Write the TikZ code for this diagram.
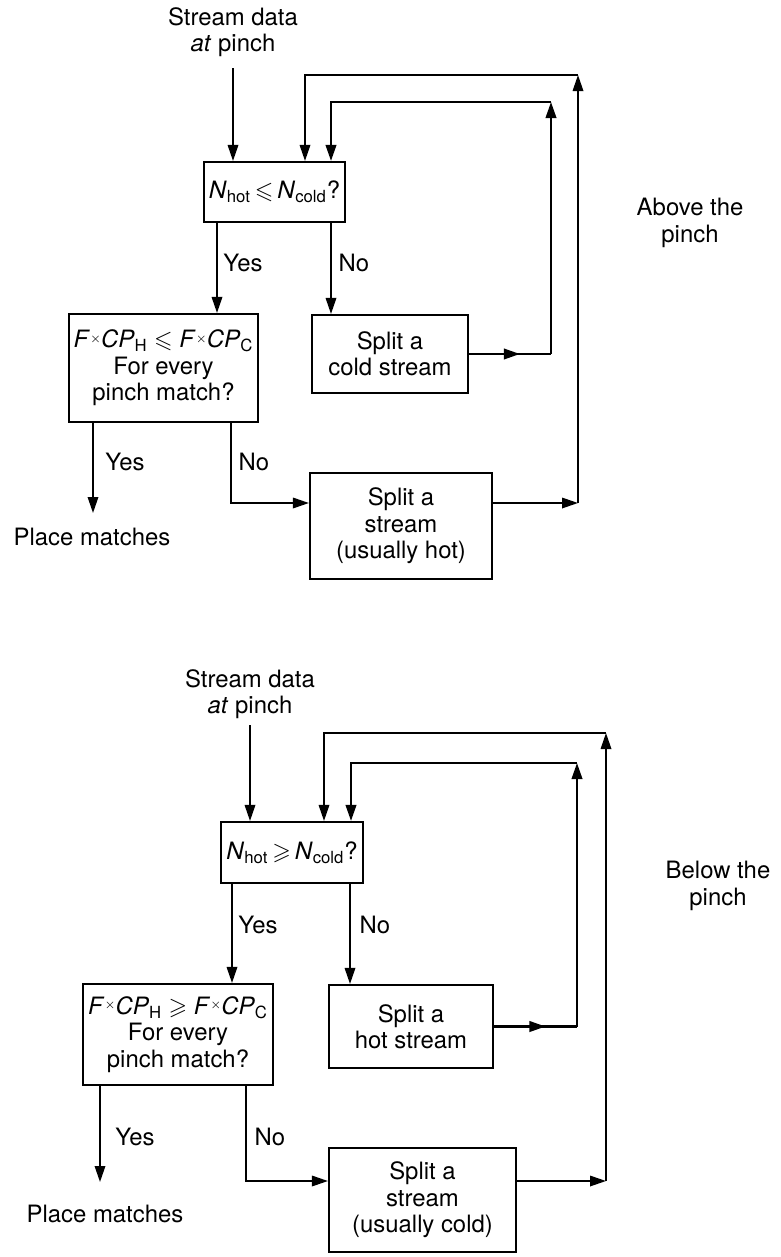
\documentclass[tikz,border=0pt]{standalone}
\usepackage{amssymb}
\usepackage{fontspec}
\setmainfont{TeX Gyre Heros}
\usepackage{tikz}
\usetikzlibrary{arrows.meta}
\usetikzlibrary{decorations.markings}
\usetikzlibrary{backgrounds,positioning}
\pgfdeclarelayer{edgelayer}
\pgfdeclarelayer{nodelayer}
\pgfsetlayers{background,edgelayer,nodelayer,main}
\newcommand{\flowfont}{\fontsize{13.6}{15}\selectfont}
\newcommand{\fcp}{\textit{F}\raisebox{0.45ex}{$\scriptscriptstyle\times$}\textit{CP}}
\tikzstyle{none}=[inner sep=0mm]
\tikzstyle{txt}=[inner sep=0mm,align=center,font=\flowfont]
\tikzstyle{box}=[draw=black,line width=1.2pt,shape=rectangle,fill=white,align=center,font=\flowfont,inner sep=1mm]
\tikzstyle{plain}=[line width=1pt]
\tikzstyle{flow}=[plain,-{Triangle[length=3.2mm,width=2.1mm]}]
\tikzstyle{midflow}=[plain,decoration={markings,mark=at position 0.62 with {\arrow{Triangle[length=3.2mm,width=2.1mm]}}},postaction={decorate}]
\tikzstyle{thickflow}=[flow,line width=1.3pt]

\begin{document}
\begin{tikzpicture}
	\useasboundingbox (0, 0) rectangle (15.62, -25.14);
	\begin{pgfonlayer}{nodelayer}
		% above the pinch
		\node [style=txt] (0) at (4.66, -0.64) {Stream data\\\textit{at} pinch};
		\node [style=none] (1) at (4.66, -1.36) {};
		\node [style=box, minimum width=2.74cm, minimum height=1.2cm] (2) at (5.49, -3.84) {\textit{N}\textsubscript{hot}\,$\leqslant$\,\textit{N}\textsubscript{cold}?};
		\node [style=none] (3) at (6.10, -1.5) {};
		\node [style=none] (4) at (11.56, -1.5) {};
		\node [style=none] (5) at (6.62, -2.04) {};
		\node [style=none] (6) at (11.02, -2.04) {};
		\node [style=box, minimum width=3.62cm, minimum height=2.16cm] (7) at (3.27, -7.36) {\fcp\textsubscript{H} $\leqslant$ \fcp\textsubscript{C}\\For every\\pinch match?};
		\node [style=box, minimum width=3.12cm, minimum height=1.56cm] (8) at (7.8, -7.08) {Split a\\cold stream};
		\node [style=box, minimum width=3.64cm, minimum height=2.12cm] (9) at (8.02, -10.52) {Split a\\stream\\(usually hot)};
		\node [style=none] (10) at (4.34, -4.44) {};
		\node [style=none] (11) at (6.62, -4.44) {};
		\node [style=none] (12) at (11.02, -7.08) {};
		\node [style=none] (13) at (1.86, -8.44) {};
		\node [style=none] (14) at (1.86, -10.26) {};
		\node [style=txt] (15) at (1.84, -10.74) {Place matches};
		\node [style=none] (16) at (4.62, -8.44) {};
		\node [style=none] (17) at (4.62, -10.06) {};
		\node [style=none] (18) at (11.56, -10.06) {};
		\node [style=txt] (19) at (4.86, -5.26) {Yes};
		\node [style=txt] (20) at (7.08, -5.26) {No};
		\node [style=txt] (21) at (2.5, -9.24) {Yes};
		\node [style=txt] (22) at (5.08, -9.24) {No};
		\node [style=txt] (23) at (13.8, -4.46) {Above the\\pinch};
		% below the pinch
		\node [style=txt] (24) at (5.0, -13.88) {Stream data\\\textit{at} pinch};
		\node [style=none] (25) at (5.0, -14.5) {};
		\node [style=box, minimum width=2.8cm, minimum height=1.22cm] (26) at (5.84, -17.05) {\textit{N}\textsubscript{hot}\,$\geqslant$\,\textit{N}\textsubscript{cold}?};
		\node [style=none] (27) at (6.48, -14.66) {};
		\node [style=none] (28) at (12.12, -14.66) {};
		\node [style=none] (29) at (7.02, -15.26) {};
		\node [style=none] (30) at (11.54, -15.26) {};
		\node [style=box, minimum width=3.76cm, minimum height=2.02cm] (31) at (3.56, -20.69) {\fcp\textsubscript{H} $\geqslant$ \fcp\textsubscript{C}\\For every\\pinch match?};
		\node [style=box, minimum width=3.28cm, minimum height=1.66cm] (32) at (8.22, -20.53) {Split a\\hot stream};
		\node [style=box, minimum width=3.74cm, minimum height=2.08cm] (33) at (8.45, -24.0) {Split a\\stream\\(usually cold)};
		\node [style=none] (34) at (4.64, -17.66) {};
		\node [style=none] (35) at (7.0, -17.66) {};
		\node [style=none] (36) at (11.54, -20.53) {};
		\node [style=none] (37) at (2.0, -21.7) {};
		\node [style=none] (38) at (2.0, -23.64) {};
		\node [style=txt] (39) at (2.1, -24.28) {Place matches};
		\node [style=none] (40) at (4.92, -21.7) {};
		\node [style=none] (41) at (4.92, -23.62) {};
		\node [style=none] (42) at (12.12, -23.62) {};
		\node [style=txt] (43) at (5.16, -18.5) {Yes};
		\node [style=txt] (44) at (7.5, -18.5) {No};
		\node [style=txt] (45) at (2.7, -22.74) {Yes};
		\node [style=txt] (46) at (5.4, -22.74) {No};
		\node [style=txt] (47) at (14.36, -17.72) {Below the\\pinch};
	\end{pgfonlayer}
	\begin{pgfonlayer}{edgelayer}
		\draw [style=flow] (1.center) to (2.north -| 1);
		\draw [style=flow] (10.center) to (7.north -| 10);
		\draw [style=flow] (11.center) to (8.north -| 11);
		\draw [style=midflow, line width=1.3pt] (8.east) to (12.center);
		\draw [style=thickflow] (12.center) to (6.center);
		\draw [style=thickflow] (6.center) to (5.center) to (2.north -| 5);
		\draw [style=flow] (13.center) to (14.center);
		\draw [style=flow] (16.center) to (17.center) to (9.west |- 17);
		\draw [style=flow] (9.east |- 18) to (18.center);
		\draw [style=flow] (18.center) to (4.center);
		\draw [style=flow] (4.center) to (3.center) to (2.north -| 3);
		\draw [style=flow] (25.center) to (26.north -| 25);
		\draw [style=flow] (34.center) to (31.north -| 34);
		\draw [style=flow] (35.center) to (32.north -| 35);
		\draw [style=midflow, line width=1.3pt] (32.east) to (36.center);
		\draw [style=thickflow] (36.center) to (30.center);
		\draw [style=thickflow] (30.center) to (29.center) to (26.north -| 29);
		\draw [style=flow] (37.center) to (38.center);
		\draw [style=flow] (40.center) to (41.center) to (33.west |- 41);
		\draw [style=flow] (33.east |- 42) to (42.center);
		\draw [style=flow] (42.center) to (28.center);
		\draw [style=flow] (28.center) to (27.center) to (26.north -| 27);
	\end{pgfonlayer}
\end{tikzpicture}
\end{document}
